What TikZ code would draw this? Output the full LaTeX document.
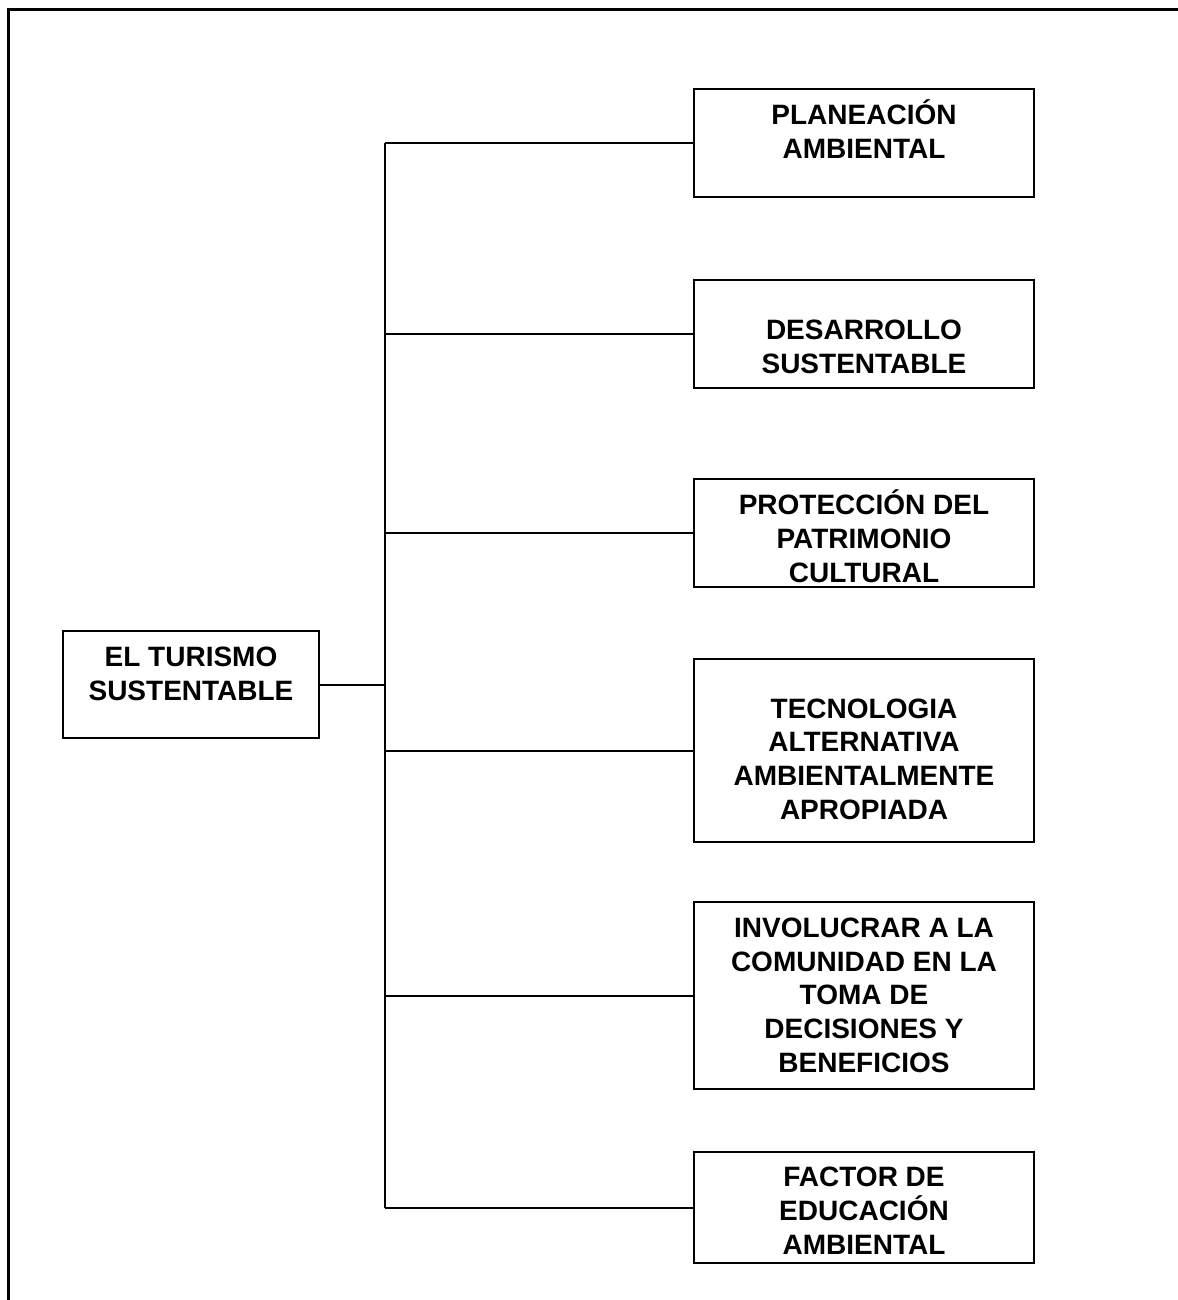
\documentclass[tikz,border=0pt]{standalone}
\usepackage{fontspec}
\setmainfont{Liberation Sans}
\begin{document}
\begin{tikzpicture}[x=0.75pt,y=-0.75pt,
  box/.style={draw=black, line width=1.5pt, inner sep=0pt, minimum width=255pt, minimum height=81pt},
  % the text block hangs from the cap top of its last line
  label/.style={anchor=north, inner sep=0pt, align=center, text height=15pt,
    font=\fontsize{21}{25.3}\selectfont\bfseries},
  link/.style={draw=black, line width=1.5pt},
  frame/.style={draw=black, line width=2.25pt}]
\useasboundingbox (0,0) rectangle (1178,1300);

% page frame (top and left edges)
\draw[frame] (1190,9.5) -- (8,9.5) -- (8,1310);

% root box
\node[box, minimum width=192pt, minimum height=80.25pt] (root) at (191,684.5) {};
\node[label] (roottxt) at (191,680) {EL TURISMO\\SUSTENTABLE};

% branch boxes
\node[box] (b1) at (864,143) {};
\node[label] (t1) at (864,138) {PLANEACIÓN\\AMBIENTAL};

\node[box] (b2) at (864,334) {};
\node[label] (t2) at (864,353) {DESARROLLO\\SUSTENTABLE};

\node[box] (b3) at (864,533) {};
\node[label] (t3) at (864,562) {PROTECCIÓN DEL\\PATRIMONIO\\CULTURAL};

\node[box, minimum height=137.25pt] (b4) at (864,750.5) {};
\node[label] (t4) at (864,799) {TECNOLOGIA\\ALTERNATIVA\\AMBIENTALMENTE\\APROPIADA};

\node[box, minimum height=140.25pt] (b5) at (864,995.5) {};
\node[label] (t5) at (864,1052) {INVOLUCRAR A LA\\COMUNIDAD EN LA\\TOMA DE\\DECISIONES Y\\BENEFICIOS};

\node[box, minimum height=83.25pt] (b6) at (864,1207.5) {};
\node[label] (t6) at (864,1234) {FACTOR DE\\EDUCACIÓN\\AMBIENTAL};

% bus line position
\coordinate (bus) at (385,0);

% connectors
\draw[link] (root.east) -- (root.east -| bus);
\draw[link] (b1.west -| bus) -- (b6.west -| bus);
\foreach \b in {b1,b2,b3,b4,b5,b6}
  \draw[link] (\b.west) -- (\b.west -| bus);
\end{tikzpicture}
\end{document}
